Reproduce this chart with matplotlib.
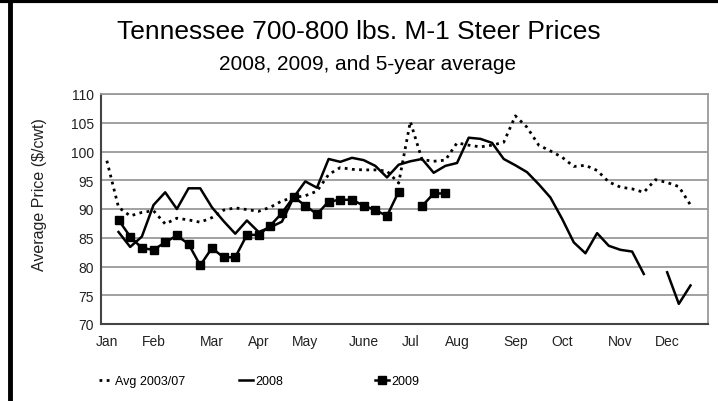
import numpy as np
import matplotlib.pyplot as plt
from matplotlib.lines import Line2D

plt.rcParams['font.family'] = ['Liberation Sans', 'DejaVu Sans']

# weekly prices, index 0..51 (one category per week)
weeks = np.arange(52)
month_pos = [0, 4, 9, 13, 17, 22, 26, 30, 35, 39, 44, 48]
month_labels = ['Jan', 'Feb', 'Mar', 'Apr', 'May', 'June', 'Jul', 'Aug',
                'Sep', 'Oct', 'Nov', 'Dec']

avg_0307 = [98.4, 90.3, 88.8, 89.4, 89.7, 87.4, 88.4, 88.1, 87.7, 88.5,
            89.8, 90.2, 89.9, 89.6, 90.3, 91.4, 92.0, 92.3, 93.1, 96.0,
            97.2, 96.9, 96.8, 96.8, 96.6, 94.5, 105.2, 98.6, 98.3, 98.5,
            101.5, 101.1, 100.8, 101.1, 101.6, 106.2, 104.2, 101.1, 100.1, 99.0,
            97.4, 97.6, 96.7, 94.7, 93.8, 93.5, 92.9, 95.1, 94.6, 93.9,
            90.7, None]

y2008 = [None, 86.0, 83.4, 85.2, 90.7, 92.9, 90.0, 93.6, 93.6, 90.3,
         87.9, 85.7, 88.0, 86.0, 86.8, 87.8, 92.0, 94.8, 93.7, 98.7,
         98.2, 98.9, 98.5, 97.5, 95.5, 97.7, 98.3, 98.7, 96.3, 97.5,
         98.0, 102.4, 102.2, 101.5, 98.7, 97.6, 96.4, 94.3, 92.0, 88.3,
         84.2, 82.3, 85.8, 83.6, 82.9, 82.6, 78.7, None, 79.0, 73.5,
         76.7, None]

y2009 = [None, 88.1, 85.2, 83.2, 82.9, 84.2, 85.4, 83.9, 80.2, 83.2,
         81.6, 81.6, 85.5, 85.5, 87.1, 89.3, 92.1, 90.6, 89.1, 91.3,
         91.6, 91.6, 90.6, 89.8, 88.8, 93.0, None, 90.5, 92.7, 92.7] + [None] * 22


def arr(v):
    return np.array([np.nan if x is None else x for x in v], dtype=float)


fig = plt.figure(figsize=(7.18, 4.02), dpi=100)
ax = fig.add_axes([101 / 718, 1 - 325 / 402, 607 / 718, 230 / 402])

la, = ax.plot(weeks, arr(avg_0307), color='black', lw=2.0, ls=(0, (1, 1.6)))
l8, = ax.plot(weeks, arr(y2008), color='black', lw=1.8)
l9, = ax.plot(weeks, arr(y2009), color='black', lw=1.8, marker='s', ms=5.5)

ax.set_xlim(-0.5, 51.5)
ax.set_ylim(70, 110)
ax.set_yticks(range(70, 111, 5))
ax.set_xticks(month_pos)
ax.set_xticklabels(month_labels)
ax.tick_params(length=0, labelsize=10, colors='#222222')
ax.tick_params(axis='y', pad=5)
ax.tick_params(axis='x', pad=7)
ax.yaxis.grid(True, color='#9a9a9a', lw=1.3)
ax.set_axisbelow(True)
for s in ['top', 'right']:
    ax.spines[s].set_color('#9a9a9a')
    ax.spines[s].set_linewidth(1.3)
for s in ['left', 'bottom']:
    ax.spines[s].set_color('#444444')
    ax.spines[s].set_linewidth(1.5)

fig.text(40 / 718, 1 - 195 / 402, 'Average Price ($/cwt)', rotation=90,
         ha='center', va='center', fontsize=11.5, color='#222222')

fig.text(359 / 718, 1 - 32 / 402, 'Tennessee 700-800 lbs. M-1 Steer Prices',
         ha='center', va='center', fontsize=19)
fig.text(368 / 718, 1 - 65 / 402, '2008, 2009, and 5-year average',
         ha='center', va='center', fontsize=15)

# legend entries placed separately like the original
for h, lab, x0 in [(la, 'Avg 2003/07', 99), (l8, '2008', 239), (l9, '2009', 375)]:
    lg = fig.legend([h], [lab], loc='center left',
                    bbox_to_anchor=(x0 / 718, 1 - 382 / 402),
                    frameon=False, fontsize=9, handlelength=1.1,
                    handletextpad=0.2, borderpad=0, borderaxespad=0)

# black page borders (top and left)
fig.add_artist(Line2D([0, 1], [1 - 1.5 / 402] * 2, color='black', lw=3,
                      transform=fig.transFigure))
fig.add_artist(Line2D([10 / 718] * 2, [0, 1], color='black', lw=3.5,
                      transform=fig.transFigure))

fig.savefig('out.png', dpi=100)
